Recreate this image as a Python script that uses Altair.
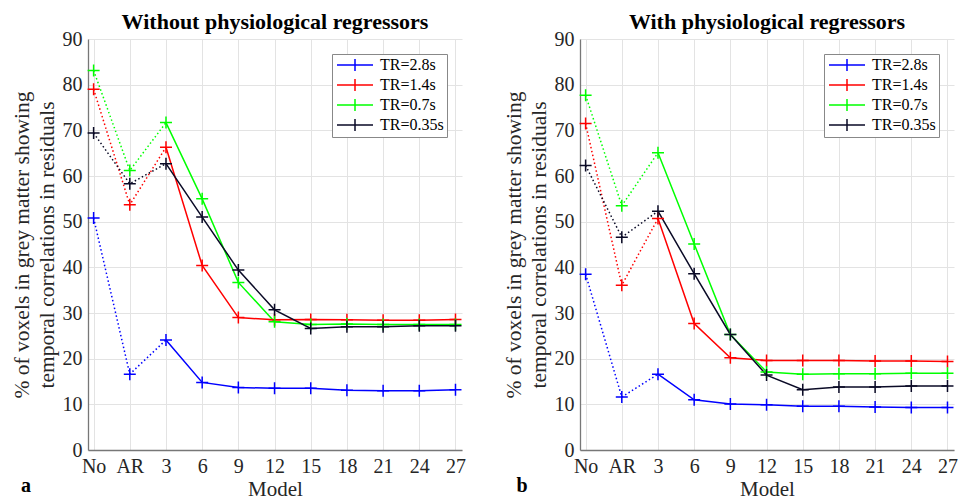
import altair as alt
import pandas as pd

models = ["No", "AR", "3", "6", "9", "12", "15", "18", "21", "24", "27"]
series = ["TR=2.8s", "TR=1.4s", "TR=0.7s", "TR=0.35s"]
colors = ["#0000ff", "#ff0000", "#00ff00", "#0a0a26"]

without_vals = {
    "TR=2.8s": [50.8, 16.6, 24.1, 14.8, 13.7, 13.5, 13.5, 13.1, 13.0, 13.0, 13.2],
    "TR=1.4s": [79.0, 53.7, 66.3, 40.4, 29.0, 28.5, 28.6, 28.5, 28.4, 28.4, 28.6],
    "TR=0.7s": [83.1, 61.2, 71.7, 55.0, 36.7, 28.1, 27.5, 27.6, 27.5, 27.5, 27.5],
    "TR=0.35s": [69.4, 58.3, 62.7, 51.0, 39.4, 30.7, 26.6, 27.0, 27.0, 27.2, 27.2],
}
with_vals = {
    "TR=2.8s": [38.5, 11.6, 16.6, 11.0, 10.1, 9.9, 9.6, 9.6, 9.4, 9.3, 9.3],
    "TR=1.4s": [71.5, 36.1, 50.7, 27.7, 20.2, 19.6, 19.6, 19.6, 19.5, 19.5, 19.4],
    "TR=0.7s": [77.7, 53.5, 65.1, 45.1, 25.3, 17.1, 16.6, 16.7, 16.7, 16.8, 16.8],
    "TR=0.35s": [62.3, 46.6, 52.3, 38.6, 25.3, 16.4, 13.2, 13.8, 13.8, 14.0, 14.0],
}

FONT = "'Liberation Serif', 'Times New Roman', Times, serif"
W, H = 374, 411
label_expr = "[" + ",".join("'%s'" % m for m in models) + "][datum.value-1]"


def make_df(vals):
    rows = []
    for s in series:
        for i, v in enumerate(vals[s]):
            rows.append({"idx": i + 1, "model": models[i], "series": s, "value": v})
    return pd.DataFrame(rows)


def panel(vals, title, letter, letter_x):
    df = make_df(vals)
    xenc = alt.X(
        "idx:Q",
        scale=alt.Scale(domain=[0.845, 11.18], nice=False, zero=False),
        axis=alt.Axis(
            values=list(range(1, len(models) + 1)),
            labelExpr=label_expr,
            title="Model",
            grid=True,
            ticks=False,
            labelPadding=6,
            titlePadding=2,
        ),
    )
    yenc = alt.Y(
        "value:Q",
        scale=alt.Scale(domain=[0, 90], nice=False),
        axis=alt.Axis(
            values=list(range(0, 91, 10)),
            title=["% of voxels in grey matter showing", "temporal correlations in residuals"],
            grid=True,
            ticks=False,
            labelPadding=6,
            titlePadding=4,
        ),
    )
    cenc = alt.Color(
        "series:N",
        scale=alt.Scale(domain=series, range=colors),
        legend=alt.Legend(
            title=None,
            orient="top-right",
            offset=15,
            symbolType="M-1,0H5M2,-1V1",
            symbolSize=144,
            symbolStrokeWidth=1.5,
            labelFont=FONT,
            labelFontSize=16,
            labelColor="black",
            labelOffset=29,
            rowPadding=2,
            padding=3,
            strokeColor="#888888",
            fillColor="white",
        ),
    )
    base = alt.Chart(df)
    dotted = base.transform_filter("datum.idx <= 3").mark_line(
        strokeDash=[1.5, 2.5], strokeWidth=1.5
    ).encode(x=xenc, y=yenc, color=cenc)
    solid = base.transform_filter("datum.idx >= 3").mark_line(strokeWidth=1.5).encode(
        x=xenc, y=yenc, color=cenc
    )
    pts = base.mark_point(
        shape="M-1,0H1M0,-1V1", filled=False, size=144, strokeWidth=1.5, opacity=1
    ).encode(x=xenc, y=yenc, color=cenc)
    lab = alt.Chart(pd.DataFrame({"t": [letter]})).mark_text(
        font=FONT, fontSize=20, fontWeight="bold", align="center", baseline="alphabetic", color="black"
    ).encode(text="t:N", x=alt.value(letter_x), y=alt.value(H + 42))
    return alt.layer(dotted, solid, pts, lab).properties(
        width=W,
        height=H,
        title=alt.Title(title, font=FONT, fontSize=22, fontWeight="bold", color="black", offset=-5),
    )


left = panel(without_vals, "Without physiological regressors", "a", -62)
right = panel(with_vals, "With physiological regressors", "b", -58)

chart = (
    alt.hconcat(left, right, spacing=37)
    .resolve_legend(color="independent")
    .resolve_scale(color="independent")
    .properties(padding={"left": 3, "top": 3, "right": 0, "bottom": 0})
    .configure_view(stroke=None)
    .configure_axis(
        labelFont=FONT,
        titleFont=FONT,
        labelFontSize=20,
        titleFontSize=21,
        titleFontWeight="normal",
        labelColor="#262626",
        titleColor="#262626",
        domainColor="#777777",
        domainWidth=1.3,
        gridColor="#e3e3e3",
        gridWidth=1,
    )
    .configure_axisY(titleLineHeight=25, titleFontSize=21.5)
)

chart.save("out.html", embed_options={"renderer": "svg", "actions": False})
